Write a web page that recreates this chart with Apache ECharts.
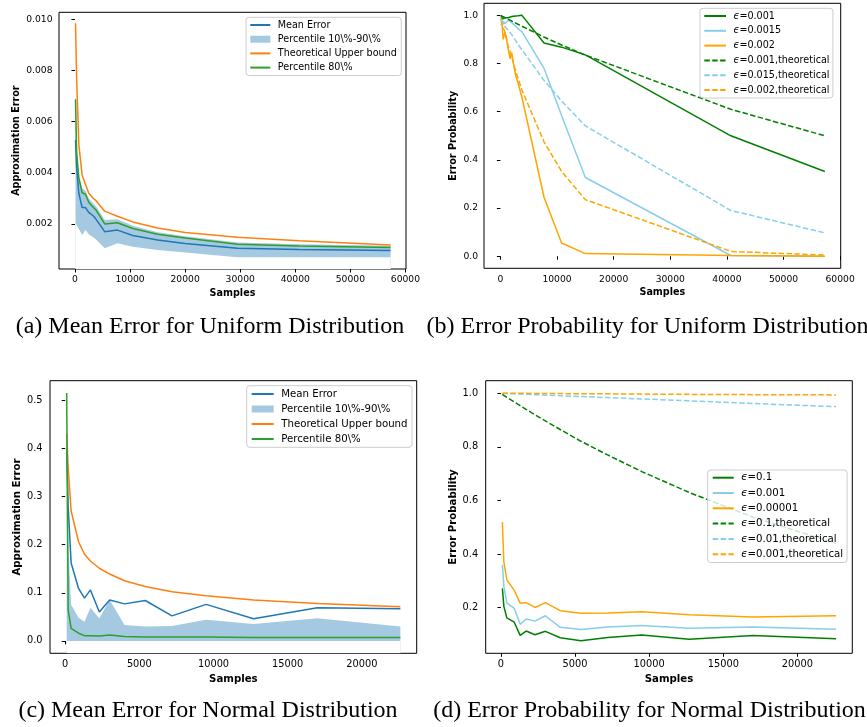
<!DOCTYPE html>
<html>
<head>
<meta charset="utf-8">
<script src="https://cdn.jsdelivr.net/npm/echarts@6/dist/echarts.min.js"></script>
<style>
  html, body { margin: 0; padding: 0; background: #fff; }
  #chart { width: 867px; height: 727px; }
</style>
</head>
<body>
<div id="chart"></div>
<script>
// ---- (a) uniform distribution, approximation error ----
const uniSamplesA = [100, 300, 700, 1300, 1900, 2500, 3300, 3800, 5400, 7700, 10500, 15000, 20000, 29500, 40700, 57300];
const uniMeanErr = [0.00528, 0.0042, 0.0032, 0.00264, 0.00264, 0.00245, 0.00232, 0.00219, 0.0017, 0.00176, 0.00155, 0.00137, 0.00124, 0.00105, 0.001, 0.00096];
const uniP10 = [0.00202, 0.00195, 0.0018, 0.00157, 0.00176, 0.0016, 0.00148, 0.0014, 0.00105, 0.00125, 0.00111, 0.00098, 0.00088, 0.0007, 0.0007, 0.0007];
const uniP90 = [0.0072, 0.005, 0.0039, 0.0034, 0.0033, 0.003, 0.0028, 0.0027, 0.00215, 0.00218, 0.00193, 0.00168, 0.00152, 0.00128, 0.00121, 0.00115];
const uniTheory = [0.00984, 0.0077, 0.0051, 0.0039, 0.00355, 0.0032, 0.003, 0.00292, 0.0025, 0.0023, 0.00208, 0.00184, 0.00167, 0.00148, 0.00134, 0.00118];
const uniP80 = [0.00687, 0.0048, 0.0038, 0.00322, 0.00316, 0.00285, 0.00265, 0.00255, 0.002, 0.00205, 0.00182, 0.0016, 0.00145, 0.00121, 0.00114, 0.00108];

// ---- (b) uniform distribution, error probability ----
const uniSamplesB = [100, 300, 500, 800, 1100, 1400, 1700, 2000, 2300, 2700, 3100, 3800, 7700, 10800, 15000, 40700, 57300];
const uniProbEps001 = [1.0, 0.985, 0.99, 0.99, 0.995, 0.99, 0.995, 0.995, 0.995, 0.997, 0.998, 1.0, 0.885, 0.868, 0.836, 0.5, 0.352];
const uniProbEps0015 = [0.98, 0.96, 0.975, 0.965, 0.97, 0.98, 0.975, 0.97, 0.965, 0.955, 0.945, 0.932, 0.78, 0.584, 0.327, 0.003, 0.0];
const uniProbEps002 = [0.99, 0.96, 0.9, 0.93, 0.9, 0.856, 0.82, 0.845, 0.8, 0.75, 0.72, 0.66, 0.245, 0.055, 0.011, 0.003, 0.0];
const uniTheoEps001 = [1.0, 0.997, 0.994, 0.99, 0.987, 0.983, 0.98, 0.976, 0.973, 0.968, 0.963, 0.955, 0.91, 0.877, 0.835, 0.61, 0.5];
const uniTheoEps0015 = [0.985, 0.975, 0.962, 0.955, 0.945, 0.937, 0.93, 0.92, 0.91, 0.895, 0.88, 0.857, 0.73, 0.645, 0.541, 0.19, 0.097];
const uniTheoEps002 = [0.96, 0.97, 0.95, 0.93, 0.9, 0.87, 0.85, 0.83, 0.8, 0.77, 0.74, 0.69, 0.475, 0.352, 0.235, 0.02, 0.005];

// ---- (c) normal distribution, approximation error ----
const normSamples = [100, 200, 400, 900, 1300, 1700, 2300, 3000, 4000, 5400, 7200, 9500, 12700, 17000, 22600];
const normMeanErr = [0.4, 0.28, 0.162, 0.109, 0.089, 0.106, 0.06, 0.085, 0.077, 0.084, 0.052, 0.076, 0.046, 0.069, 0.067];
const normP10 = [0, 0, 0, 0, 0, 0, 0, 0, 0, 0, 0, 0, 0, 0, 0];
const normP90 = [0.4, 0.2, 0.075, 0.048, 0.04, 0.069, 0.047, 0.085, 0.033, 0.03, 0.031, 0.044, 0.035, 0.047, 0.03];
const normTheory = [0.43, 0.36, 0.27, 0.206, 0.18, 0.166, 0.151, 0.139, 0.125, 0.113, 0.102, 0.094, 0.085, 0.078, 0.071];
const normP80 = [0.515, 0.064, 0.026, 0.016, 0.011, 0.011, 0.01, 0.0125, 0.009, 0.008, 0.008, 0.008, 0.007, 0.007, 0.007];

// ---- (d) normal distribution, error probability ----
const normProbEps01 = [0.272, 0.205, 0.162, 0.146, 0.097, 0.113, 0.099, 0.112, 0.088, 0.077, 0.089, 0.098, 0.082, 0.096, 0.084];
const normProbEps0001 = [0.36, 0.28, 0.218, 0.198, 0.138, 0.158, 0.15, 0.17, 0.127, 0.119, 0.128, 0.134, 0.123, 0.128, 0.12];
const normProbEps000001 = [0.52, 0.37, 0.305, 0.265, 0.217, 0.219, 0.201, 0.219, 0.189, 0.179, 0.18, 0.185, 0.174, 0.165, 0.17];
const normTheoEps01 = [0.996, 0.993, 0.985, 0.968, 0.954, 0.94, 0.92, 0.897, 0.865, 0.821, 0.77, 0.708, 0.63, 0.538, 0.44];
const normTheoEps001 = [1.0, 1.0, 0.999, 0.998, 0.997, 0.996, 0.995, 0.993, 0.991, 0.988, 0.984, 0.979, 0.972, 0.962, 0.95];
const normTheoEps0001 = [1.0, 1.0, 1.0, 1.0, 1.0, 1.0, 0.999, 0.999, 0.999, 0.998, 0.998, 0.997, 0.996, 0.995, 0.994];

// tick labels
const xTicksUni = [0, 10000, 20000, 30000, 40000, 50000, 60000];
const xTicksNorm = [0, 5000, 10000, 15000, 20000];
const yTicksA = [0.002, 0.004, 0.006, 0.008, 0.010];
const yTicksProb = [0.0, 0.2, 0.4, 0.6, 0.8, 1.0];
const yTicksC = [0.0, 0.1, 0.2, 0.3, 0.4, 0.5];
const yTicksD = [0.2, 0.4, 0.6, 0.8, 1.0];

const captions = [
  { text: '(a) Mean Error for Uniform Distribution', x: 210, y: 327 },
  { text: '(b) Error Probability for Uniform Distribution', x: 647.5, y: 327 },
  { text: '(c) Mean Error for Normal Distribution', x: 208, y: 711 },
  { text: '(d) Error Probability for Normal Distribution', x: 649.5, y: 711 }
];

const FONT = 'DejaVu Sans';
const T_BLUE = '#1f77b4', T_ORANGE = '#ff7f0e', T_GREEN = '#2ca02c';
const BAND = '#a5c9e1';
const GREEN = '#008000', SKY = '#87ceeb', ORANGE = '#ffa500';
const DASH = [5.5, 2.4];

const chart = echarts.init(document.getElementById('chart'));

function pairs(xs, ys) {
  return xs.map((x, i) => [x, ys[i]]);
}

function line(name, gi, xs, ys, color, dashed) {
  return {
    name, type: 'line', xAxisIndex: gi, yAxisIndex: gi,
    data: pairs(xs, ys), symbol: 'none', animation: false,
    lineStyle: { color, width: 1.5, type: dashed ? DASH : 'solid' },
    itemStyle: { color }
  };
}

// percentile band: upper bound filled down to the axis, then the part under the lower bound is painted white again
function band(name, gi, xs, lo, hi) {
  return [
    {
      name, type: 'line', xAxisIndex: gi, yAxisIndex: gi,
      data: pairs(xs, hi), symbol: 'none', animation: false,
      lineStyle: { width: 0, opacity: 0 },
      areaStyle: { color: BAND, opacity: 1, origin: 'start' },
      itemStyle: { color: BAND }
    },
    {
      name: name + ' low', type: 'line', xAxisIndex: gi, yAxisIndex: gi,
      data: pairs(xs, lo), symbol: 'none', silent: true, animation: false,
      lineStyle: { width: 0, opacity: 0 },
      areaStyle: { color: '#fff', opacity: 1, origin: 'start' }
    }
  ];
}

function xAxis(gi, min, max, ticks, fs, nameFs, nameGap) {
  return {
    gridIndex: gi, type: 'value', min, max,
    name: 'Samples', nameLocation: 'middle', nameGap,
    nameTextStyle: { fontFamily: FONT, fontWeight: 'bold', fontSize: nameFs, color: '#000' },
    axisLine: { show: false }, splitLine: { show: false },
    axisTick: { show: true, inside: false, length: 3.5, lineStyle: { color: '#000', width: 1 }, customValues: ticks },
    axisLabel: { customValues: ticks, margin: 6.5, fontFamily: FONT, fontSize: fs, color: '#000', formatter: v => String(v) }
  };
}

function yAxis(gi, min, max, ticks, digits, name, fs, nameFs, nameGap, margin) {
  return {
    gridIndex: gi, type: 'value', min, max,
    name, nameLocation: 'middle', nameGap,
    nameTextStyle: { fontFamily: FONT, fontWeight: 'bold', fontSize: nameFs, color: '#000' },
    axisLine: { show: false }, splitLine: { show: false },
    axisTick: { show: true, inside: false, length: 3.5, lineStyle: { color: '#000', width: 1 }, customValues: ticks },
    axisLabel: { customValues: ticks, margin, fontFamily: FONT, fontSize: fs, color: '#000', formatter: v => v.toFixed(digits) }
  };
}

function stripName(n) {
  const s = n.slice(2);
  return s.charAt(0) === 'ϵ' ? '{e|ϵ}' + s.slice(1) : s;
}

function legend(names, left, top, padding, itemGap, itemWidth, fs) {
  return {
    data: names, orient: 'vertical', left, top, padding, itemGap,
    itemWidth, itemHeight: 7, selectedMode: false,
    backgroundColor: 'rgba(255,255,255,0.8)', borderColor: '#cccccc', borderWidth: 1, borderRadius: 3,
    itemStyle: { opacity: 0 },
    formatter: stripName,
    textStyle: {
      fontFamily: FONT, fontSize: fs, color: '#000', lineHeight: fs + 0.4, padding: [0, 0, 0, 2.5],
      rich: { e: { fontFamily: FONT, fontSize: fs, fontStyle: 'italic', color: '#000' } }
    }
  };
}

const bandItem = name => ({ name, icon: 'rect', itemStyle: { color: BAND, opacity: 1, borderWidth: 0 } });

const gridStyle = { show: true, borderColor: '#000', borderWidth: 1, backgroundColor: '#fff' };

const option = {
  animation: false,
  title: captions.map(c => ({
    text: c.text, left: c.x, top: c.y, textAlign: 'center', textVerticalAlign: 'middle', padding: 0,
    textStyle: { fontFamily: 'Liberation Serif', fontSize: 24, fontWeight: 'normal', color: '#000' }
  })),
  grid: [
    Object.assign({ left: 59, top: 12.3, width: 347, height: 256.7 }, gridStyle),
    Object.assign({ left: 484, top: 3.3, width: 356.7, height: 265 }, gridStyle),
    Object.assign({ left: 50, top: 380.7, width: 366.7, height: 272.6 }, gridStyle),
    Object.assign({ left: 485.7, top: 380.7, width: 366.6, height: 272.6 }, gridStyle)
  ],
  xAxis: [
    xAxis(0, -2900, 60100, xTicksUni, 9.2, 9.6, 19),
    xAxis(1, -2900, 60100, xTicksUni, 9.2, 9.6, 19.5),
    xAxis(2, -1025, 23700, xTicksNorm, 9.8, 10.2, 21.5),
    xAxis(3, -1025, 23700, xTicksNorm, 9.8, 10.2, 21.5)
  ],
  yAxis: [
    yAxis(0, 0.00024, 0.01027, yTicksA, 3, 'Approximation Error', 9.2, 9.6, 38, 6.5),
    yAxis(1, -0.05, 1.05, yTicksProb, 1, 'Error Probability', 9.2, 9.6, 26, 6),
    yAxis(2, -0.0257, 0.5407, yTicksC, 1, 'Approximation Error', 9.8, 10.2, 27.5, 7.5),
    yAxis(3, 0.03, 1.047, yTicksD, 1, 'Error Probability', 9.8, 10.2, 27.7, 7.5)
  ],
  legend: [
    legend(['a/Mean Error', bandItem('a/Percentile 10\\%-90\\%'), 'a/Theoretical Upper bound', 'a/Percentile 80\\%'],
      246, 17.3, [2.7, 4.5, 3, 3.3], 4.2, 20, 9.6),
    legend(['b/ϵ=0.001', 'b/ϵ=0.0015', 'b/ϵ=0.002', 'b/ϵ=0.001,theoretical', 'b/ϵ=0.015,theoretical', 'b/ϵ=0.002,theoretical'],
      700, 8.3, [2.7, 3.5, 3, 3.3], 4.8, 21.7, 9.6),
    legend(['c/Mean Error', bandItem('c/Percentile 10\\%-90\\%'), 'c/Theoretical Upper bound', 'c/Percentile 80\\%'],
      246.7, 385.7, [3, 4.5, 3, 4], 4.4, 22, 10.2),
    legend(['d/ϵ=0.1', 'd/ϵ=0.001', 'd/ϵ=0.00001', 'd/ϵ=0.1,theoretical', 'd/ϵ=0.01,theoretical', 'd/ϵ=0.001,theoretical'],
      707.7, 470, [2.4, 4, 3, 4], 4.7, 21, 10.2)
  ],
  series: [
    ...band('a/Percentile 10\\%-90\\%', 0, uniSamplesA, uniP10, uniP90),
    line('a/Mean Error', 0, uniSamplesA, uniMeanErr, T_BLUE),
    line('a/Theoretical Upper bound', 0, uniSamplesA, uniTheory, T_ORANGE),
    line('a/Percentile 80\\%', 0, uniSamplesA, uniP80, T_GREEN),

    line('b/ϵ=0.001', 1, uniSamplesB, uniProbEps001, GREEN),
    line('b/ϵ=0.0015', 1, uniSamplesB, uniProbEps0015, SKY),
    line('b/ϵ=0.002', 1, uniSamplesB, uniProbEps002, ORANGE),
    line('b/ϵ=0.001,theoretical', 1, uniSamplesB, uniTheoEps001, GREEN, true),
    line('b/ϵ=0.015,theoretical', 1, uniSamplesB, uniTheoEps0015, SKY, true),
    line('b/ϵ=0.002,theoretical', 1, uniSamplesB, uniTheoEps002, ORANGE, true),

    ...band('c/Percentile 10\\%-90\\%', 2, normSamples, normP10, normP90),
    line('c/Mean Error', 2, normSamples, normMeanErr, T_BLUE),
    line('c/Theoretical Upper bound', 2, normSamples, normTheory, T_ORANGE),
    line('c/Percentile 80\\%', 2, normSamples, normP80, T_GREEN),

    line('d/ϵ=0.1', 3, normSamples, normProbEps01, GREEN),
    line('d/ϵ=0.001', 3, normSamples, normProbEps0001, SKY),
    line('d/ϵ=0.00001', 3, normSamples, normProbEps000001, ORANGE),
    line('d/ϵ=0.1,theoretical', 3, normSamples, normTheoEps01, GREEN, true),
    line('d/ϵ=0.01,theoretical', 3, normSamples, normTheoEps001, SKY, true),
    line('d/ϵ=0.001,theoretical', 3, normSamples, normTheoEps0001, ORANGE, true)
  ]
};

chart.setOption(option);
</script>
</body>
</html>
